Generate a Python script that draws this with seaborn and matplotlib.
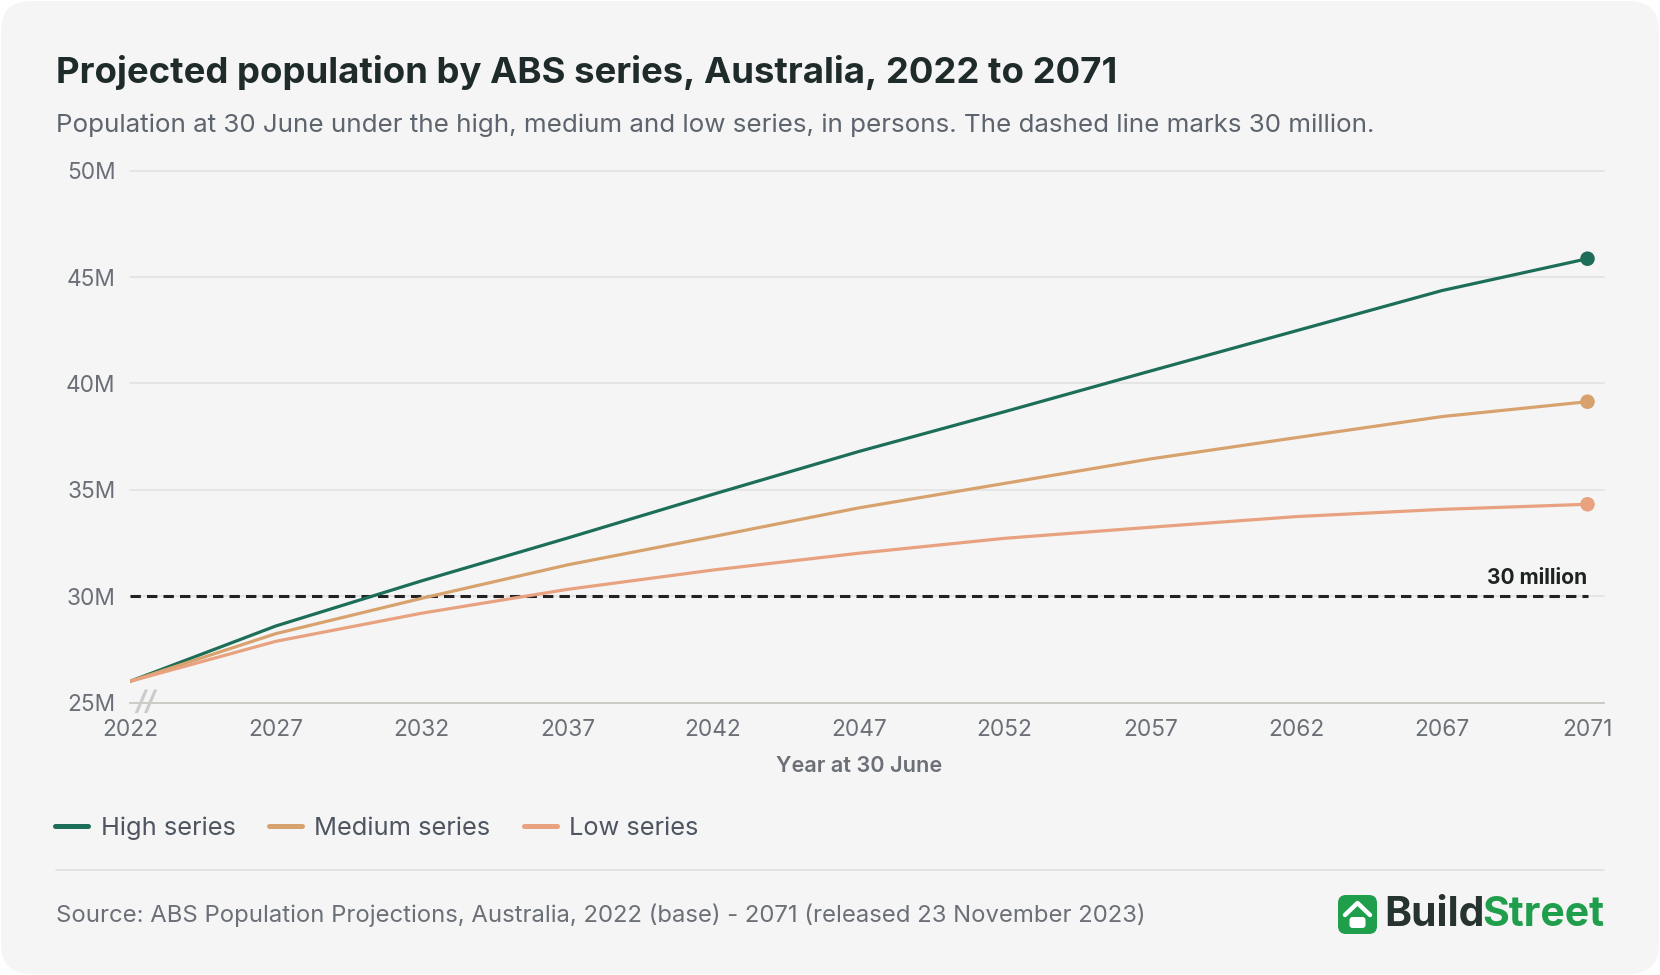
import numpy as np
import pandas as pd
import matplotlib
matplotlib.use("Agg")
import matplotlib.pyplot as plt
import seaborn as sns
from matplotlib.patches import FancyBboxPatch
from matplotlib.lines import Line2D
from matplotlib.transforms import IdentityTransform
import matplotlib.ticker as mticker

# ---------------- data ----------------
years = ["2022", "2027", "2032", "2037", "2042", "2047", "2052", "2057", "2062", "2067", "2071"]
high = [26.0, 28.6, 30.72, 32.73, 34.79, 36.8, 38.67, 40.58, 42.47, 44.36, 45.86]      # millions
medium = [26.0, 28.24, 29.9, 31.47, 32.8, 34.15, 35.3, 36.45, 37.45, 38.44, 39.14]
low = [26.0, 27.88, 29.2, 30.32, 31.23, 32.02, 32.72, 33.24, 33.74, 34.08, 34.32]
series_names = ["High series", "Medium series", "Low series"]
y_ticks = [25, 30, 35, 40, 45, 50]
threshold = 30  # millions

colors = {"High series": "#1d6e58", "Medium series": "#d8a26e", "Low series": "#e8a27f"}

df = pd.DataFrame({
    "year": years * 3,
    "population": [v * 1e6 for v in high + medium + low],
    "series": [s for s in series_names for _ in years],
})

# ---------------- figure ----------------
W, H = 1660, 975
sns.set_theme(style="white")
plt.rcParams["font.family"] = ["Inter", "DejaVu Sans"]

fig = plt.figure(figsize=(W / 100, H / 100), dpi=100, facecolor="white")


def fx(x):
    return x / W


def fy(y):
    return 1 - y / H


card = FancyBboxPatch((1, 1), W - 2, H - 2, boxstyle="round,pad=0,rounding_size=30",
                      transform=IdentityTransform(), facecolor="#f5f5f5", edgecolor="none", zorder=-5)
fig.patches.append(card)

TXT_GRAY = "#6b6f77"

fig.text(fx(56), fy(72), "Projected population by ABS series, Australia, 2022 to 2071",
         fontsize=26.3, fontweight="bold", color="#1e2b2a", va="center", ha="left")
fig.text(fx(56), fy(125),
         "Population at 30 June under the high, medium and low series, in persons. The dashed line marks 30 million.",
         fontsize=18.7, color="#5d646e", va="center", ha="left")

# axes
left_px, right_px, top_px, bot_px = 130.1, 1604, 170.6, 702.6
ax = fig.add_axes([fx(left_px), fy(bot_px), (right_px - left_px) / W, (bot_px - top_px) / H])
ax.set_facecolor("none")
ax.set_zorder(2)

sns.lineplot(data=df, x="year", y="population", hue="series", palette=colors,
             linewidth=2.3, ax=ax, legend=False, sort=False, zorder=3)

last = df[df["year"] == years[-1]]
sns.scatterplot(data=last, x="year", y="population", hue="series", palette=colors,
                s=110, ax=ax, legend=False, edgecolor="none", zorder=4)

ax.plot([years[0], years[-1]], [threshold * 1e6] * 2, color="#222222", lw=2.2,
        dashes=(3.4, 2.0), zorder=2)
ax.annotate("30 million", xy=(len(years) - 1, threshold * 1e6), xytext=(0, 12.8),
            textcoords="offset points", ha="right", va="center",
            fontsize=15.1, fontweight="bold", color="#1e2222")

# axis break marker
ax.annotate("//", xy=(0, 25e6), xytext=(11, -0.5), textcoords="offset points",
            ha="center", va="center", fontsize=19, fontweight="bold", fontstyle="italic",
            color="#cbcbcb", zorder=5, annotation_clip=False)

ax.set_ylim(25e6, 50e6)
ax.set_xlim(0, (right_px - left_px) / 145.74)
ax.set_yticks([v * 1e6 for v in y_ticks])
ax.yaxis.set_major_formatter(mticker.FuncFormatter(lambda v, p: f"{v / 1e6:.0f}M"))
ax.tick_params(axis="y", length=0, pad=10.5, labelsize=16.3, labelcolor=TXT_GRAY)
ax.tick_params(axis="x", length=0, pad=12, labelsize=16.3, labelcolor=TXT_GRAY)
ax.set_xlabel("")
ax.set_ylabel("")

ax.yaxis.grid(True, color="#e2e2e2", lw=1.2)
ax.xaxis.grid(False)
for gl in ax.yaxis.get_gridlines():
    gl.set_clip_on(False)
for s in ["top", "right", "left"]:
    ax.spines[s].set_visible(False)
ax.spines["bottom"].set_color("#cacac4")
ax.spines["bottom"].set_linewidth(1.3)
ax.set_axisbelow(True)

fig.text(fx(858.8), fy(766), "Year at 30 June", fontsize=15.6, fontweight="semibold",
         color=TXT_GRAY, ha="center", va="center")

# legend
handles = [Line2D([0], [0], color=colors[s], lw=3.6, solid_capstyle="round") for s in series_names]
fig.legend(handles, series_names, loc="center left", bbox_to_anchor=(fx(55), fy(828)),
           ncol=3, frameon=False, fontsize=18.3, labelcolor="#4e5560",
           handlelength=1.3, handletextpad=0.5, columnspacing=1.3,
           borderpad=0, borderaxespad=0)

fig.add_artist(Line2D([fx(56), fx(1604)], [fy(870), fy(870)], color="#e0e0e0", lw=1.2))

fig.text(fx(56), fy(915),
         "Source: ABS Population Projections, Australia, 2022 (base) - 2071 (released 23 November 2023)",
         fontsize=17.2, color=TXT_GRAY, ha="left", va="center")

# logo
icon = FancyBboxPatch((1338, H - 934), 39, 39, boxstyle="round,pad=0,rounding_size=8",
                      transform=IdentityTransform(), facecolor="#1f9e4b", edgecolor="none", zorder=5)
fig.patches.append(icon)
roof = Line2D([1345, 1357.5, 1370], [H - 915, H - 903, H - 915], color="white", lw=3.2,
              solid_capstyle="round", solid_joinstyle="round", transform=IdentityTransform(), zorder=6)
fig.add_artist(roof)
body = FancyBboxPatch((1349.5, H - 928), 16, 11, boxstyle="round,pad=0,rounding_size=3",
                      transform=IdentityTransform(), facecolor="white", edgecolor="none", zorder=6)
fig.patches.append(body)

t_street = fig.text(fx(1604), fy(915), "Street", fontsize=29.5, fontweight="bold",
                    color="#1f9e4b", ha="right", va="center")
fig.canvas.draw()
bb = t_street.get_window_extent()
fig.text((bb.x0 + 3) / W, fy(915), "Build", fontsize=29.5, fontweight="bold",
         color="#26332f", ha="right", va="center")

fig.savefig("out.png", dpi=100, facecolor="white")
